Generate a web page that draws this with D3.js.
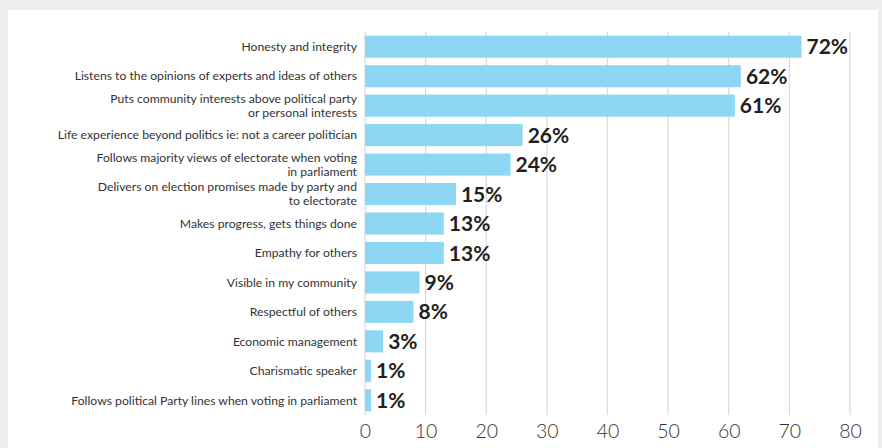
<!DOCTYPE html>
<html><head><meta charset="utf-8">
<script src="https://cdn.jsdelivr.net/npm/d3@7"></script>
<style>
html,body{margin:0;padding:0;background:#ededed;}
svg{display:block;}
</style></head>
<body>
<svg id="chart" width="882" height="448"></svg>
<script>
const categories = [
  ["Honesty and integrity"],
  ["Listens to the opinions of experts and ideas of others"],
  ["Puts community interests above political party", "or personal interests"],
  ["Life experience beyond politics ie: not a career politician"],
  ["Follows majority views of electorate when voting", "in parliament"],
  ["Delivers on election promises made by party and", "to electorate"],
  ["Makes progress, gets things done"],
  ["Empathy for others"],
  ["Visible in my community"],
  ["Respectful of others"],
  ["Economic management"],
  ["Charismatic speaker"],
  ["Follows political Party lines when voting in parliament"]
];
const values = [72, 62, 61, 26, 24, 15, 13, 13, 9, 8, 3, 1, 1];
const xTicks = [0, 10, 20, 30, 40, 50, 60, 70, 80];

const svg = d3.select("#chart");
svg.append("rect").attr("x", 8).attr("y", 10).attr("width", 870).attr("height", 450).attr("fill", "#ffffff");

const x = d3.scaleLinear().domain([0, 80]).range([365, 850]);
const y = d3.scaleBand().domain(d3.range(categories.length)).range([32, 415]).paddingInner(0.25).paddingOuter(0.125);

// gridlines
svg.append("g").selectAll("line").data(xTicks).join("line")
  .attr("x1", d => x(d)).attr("x2", d => x(d))
  .attr("y1", 32).attr("y2", 415)
  .attr("stroke", "#d9d9d9").attr("stroke-width", 1.2);

// axis
const axis = svg.append("g").attr("transform", "translate(0,415)")
  .call(d3.axisBottom(x).tickValues(xTicks).tickSize(0).tickPadding(9));
axis.select(".domain").remove();
axis.selectAll("text").attr("font-family", "Lato, sans-serif").attr("font-size", 19.5)
  .attr("font-weight", 300).attr("fill", "#333");

// bars
svg.append("g").selectAll("rect").data(values).join("rect")
  .attr("x", x(0)).attr("y", (d, i) => y(i))
  .attr("width", d => x(d) - x(0)).attr("height", y.bandwidth())
  .attr("fill", "#8dd7f5");

// value labels
svg.append("g").selectAll("text").data(values).join("text")
  .attr("x", d => x(d) + 5).attr("y", (d, i) => y(i) + y.bandwidth() / 2)
  .attr("dy", "0.36em")
  .attr("font-family", "Lato, sans-serif").attr("font-size", 21).attr("font-weight", 700)
  .attr("fill", "#231f20")
  .text(d => d + "%");

// category labels (one text per line)
const lines = [];
categories.forEach((c, i) => c.forEach((line, k) => lines.push({i, k, n: c.length, line})));
svg.append("g").selectAll("text").data(lines).join("text")
  .attr("x", 357)
  .attr("y", d => y(d.i) + y.bandwidth() / 2 + (d.k - (d.n - 1) / 2) * 14.2)
  .attr("dy", "0.35em")
  .attr("text-anchor", "end")
  .attr("font-family", "Lato, sans-serif").attr("font-size", 12.2).attr("font-weight", 400)
  .attr("fill", "#333")
  .text(d => d.line);
</script>
</body></html>
